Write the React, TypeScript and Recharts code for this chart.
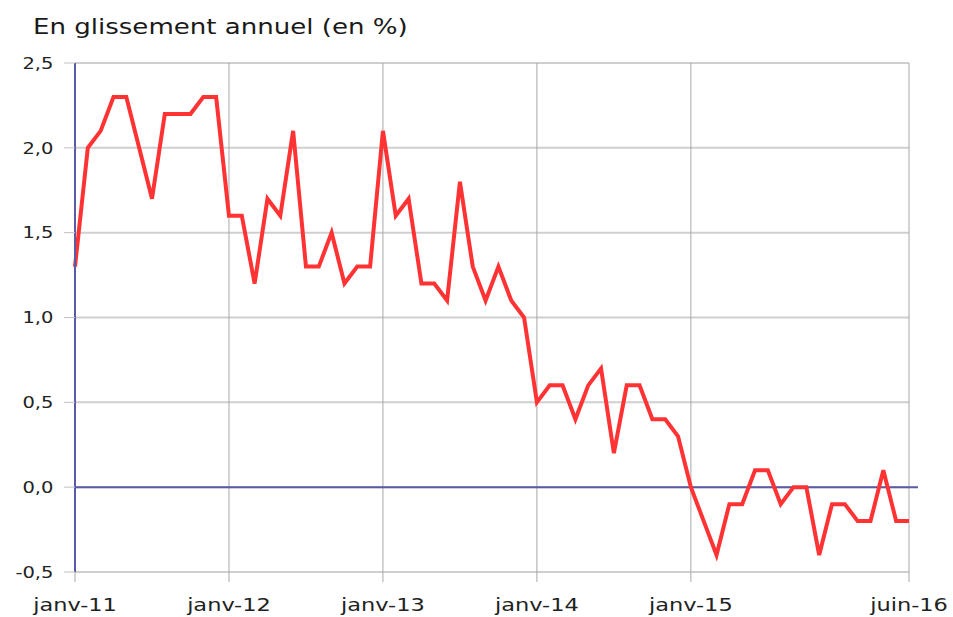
import { CartesianGrid, Line, LineChart, ReferenceLine, XAxis, YAxis } from "recharts";

// year-over-year change, monthly, janv-11 .. juin-16
const y2011 = [1.3, 2.0, 2.1, 2.3, 2.3, 2.0, 1.7, 2.2, 2.2, 2.2, 2.3, 2.3];
const y2012 = [1.6, 1.6, 1.2, 1.7, 1.6, 2.1, 1.3, 1.3, 1.5, 1.2, 1.3, 1.3];
const y2013 = [2.1, 1.6, 1.7, 1.2, 1.2, 1.1, 1.8, 1.3, 1.1, 1.3, 1.1, 1.0];
const y2014 = [0.5, 0.6, 0.6, 0.4, 0.6, 0.7, 0.2, 0.6, 0.6, 0.4, 0.4, 0.3];
const y2015 = [0.0, -0.2, -0.4, -0.1, -0.1, 0.1, 0.1, -0.1, 0.0, 0.0, -0.4, -0.1];
const y2016 = [-0.1, -0.2, -0.2, 0.1, -0.2, -0.2];

const xTicks = [0, 12, 24, 36, 48, 65];
const xTickLabels = ["janv-11", "janv-12", "janv-13", "janv-14", "janv-15", "juin-16"];
const yTicks = [-0.5, 0, 0.5, 1, 1.5, 2, 2.5];

const data = [...y2011, ...y2012, ...y2013, ...y2014, ...y2015, ...y2016].map(
  (value, i) => ({ i, value })
);

const FONT = "'DejaVu Sans', Verdana, sans-serif";

function XTick({ x, y, payload }: any) {
  const idx = xTicks.indexOf(payload.value);
  return (
    <g transform={`translate(${x},${y})`}>
      <text
        transform="scale(1.25,1)"
        dy={27}
        textAnchor="middle"
        fontFamily={FONT}
        fontSize={18}
        fill="#222"
      >
        {xTickLabels[idx]}
      </text>
    </g>
  );
}

function YTick({ x, y, payload }: any) {
  return (
    <g transform={`translate(${x},${y})`}>
      <text
        transform="scale(1.22,1)"
        x={-7}
        dy="0.36em"
        textAnchor="end"
        fontFamily={FONT}
        fontSize={16}
        fill="#222"
      >
        {payload.value.toFixed(1).replace(".", ",")}
      </text>
    </g>
  );
}

export default function App() {
  return (
    <div
      style={{
        position: "absolute",
        left: 0,
        top: 0,
        width: 953,
        height: 617,
        background: "#fff",
      }}
    >
      <div
        style={{
          position: "absolute",
          left: 33,
          top: 17,
          fontFamily: FONT,
          fontSize: 21,
          lineHeight: 1,
          color: "#1a1a1a",
          whiteSpace: "nowrap",
          transform: "scaleX(1.24)",
          transformOrigin: "left top",
        }}
      >
        En glissement annuel (en %)
      </div>
      <LineChart
        width={953}
        height={617}
        data={data}
        margin={{ top: 63, right: 44, bottom: 0, left: 0 }}
      >
        <CartesianGrid horizontal vertical={false} stroke="#cfcfcf" strokeWidth={2} />
        <CartesianGrid horizontal={false} vertical stroke="#a8a8a8" strokeWidth={1} />
        <XAxis
          dataKey="i"
          type="number"
          domain={[0, 65]}
          ticks={xTicks}
          interval={0}
          height={45}
          axisLine={false}
          tickLine={{ stroke: "#a8a8a8" }}
          tickSize={10}
          tick={<XTick />}
        />
        <YAxis
          type="number"
          domain={[-0.5, 2.5]}
          ticks={yTicks}
          interval={0}
          width={75}
          axisLine={{ stroke: "#5a5aa6", strokeWidth: 2 }}
          tickLine={{ stroke: "#c0c0c0" }}
          tickSize={11}
          tick={<YTick />}
        />
        <ReferenceLine
          segment={[
            { x: 0, y: 0 },
            { x: 65.7, y: 0 },
          ]}
          ifOverflow="visible"
          stroke="#5a5aa6"
          strokeWidth={2}
        />
        <Line
          type="linear"
          dataKey="value"
          stroke="#ff3333"
          strokeWidth={4}
          dot={false}
          isAnimationActive={false}
        />
      </LineChart>
    </div>
  );
}
